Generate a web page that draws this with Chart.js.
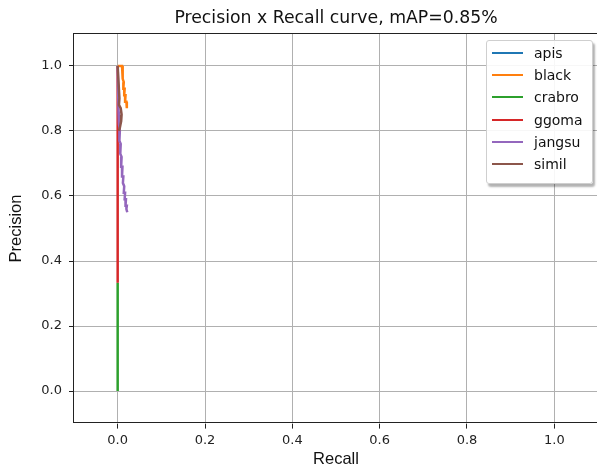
<!DOCTYPE html>
<html>
<head>
<meta charset="utf-8">
<script src="https://cdn.jsdelivr.net/npm/chart.js@4/dist/chart.umd.min.js"></script>
<style>
  html, body { margin: 0; padding: 0; background: #fff; overflow: hidden; }
  #wrap { position: relative; width: 597px; height: 469px; overflow: hidden; }
  #legend {
    position: absolute; left: 486px; top: 40px; width: 105px; height: 142px;
    background: rgba(255,255,255,0.9); border: 1px solid #cfcfcf; border-radius: 3px;
    box-shadow: 2px 3px 2px rgba(0,0,0,0.3);
    font-family: "DejaVu Sans", sans-serif; font-size: 14px; color: #111;
  }
  .row { position: absolute; left: 0; height: 18px; line-height: 18px; }
  .row .handle { position: absolute; left: 5px; top: 8px; width: 31px; height: 2px; }
  .row .label { position: absolute; left: 47px; top: 0; white-space: nowrap; }
</style>
</head>
<body>
<div id="wrap">
  <canvas id="prChart" width="598" height="469"></canvas>
  <div id="legend"></div>
</div>
<script>
// ---- data ----
const classNames = ['apis', 'black', 'crabro', 'ggoma', 'jangsu', 'simil'];
const classColors = ['#1f77b4', '#ff7f0e', '#2ca02c', '#d62728', '#9467bd', '#8c564b'];

const apisRecall = [0, 0];
const apisPrecision = [1.0, 1.0];
const blackRecall = [0, 0.01, 0.011, 0.012, 0.014, 0.013, 0.016, 0.015, 0.018, 0.017, 0.02, 0.021];
const blackPrecision = [1.0, 1.0, 0.97, 0.96, 0.95, 0.93, 0.93, 0.91, 0.91, 0.89, 0.89, 0.87];
const crabroRecall = [0, 0];
const crabroPrecision = [0.333, 0.0];
const ggomaRecall = [0, 0, 0];
const ggomaPrecision = [1.0, 0.5, 0.333];
const jangsuRecall = [0, 0.002, 0.003, 0.005, 0.004, 0.007, 0.006, 0.009, 0.008, 0.011, 0.010, 0.013, 0.012, 0.015, 0.014, 0.017, 0.016, 0.019, 0.018, 0.021, 0.020, 0.022];
const jangsuPrecision = [1.0, 0.86, 0.82, 0.80, 0.77, 0.76, 0.73, 0.72, 0.69, 0.69, 0.66, 0.66, 0.64, 0.63, 0.61, 0.61, 0.59, 0.59, 0.57, 0.57, 0.56, 0.55];
const similRecall = [0, 0.002, 0.004, 0.003, 0.007, 0.009, 0.008, 0.005, 0.003];
const similPrecision = [1.0, 0.95, 0.90, 0.88, 0.87, 0.85, 0.83, 0.81, 0.80];

const allRecall = [apisRecall, blackRecall, crabroRecall, ggomaRecall, jangsuRecall, similRecall];
const allPrecision = [apisPrecision, blackPrecision, crabroPrecision, ggomaPrecision, jangsuPrecision, similPrecision];

const xTicks = [0.0, 0.2, 0.4, 0.6, 0.8, 1.0];
const yTicks = [0.0, 0.2, 0.4, 0.6, 0.8, 1.0];

// ---- build datasets (later series on top, like matplotlib) ----
const datasets = classNames.map((name, i) => ({
  label: name,
  data: allRecall[i].map((r, j) => ({ x: r, y: allPrecision[i][j] })),
  borderColor: classColors[i],
  backgroundColor: classColors[i],
  borderWidth: 2.5,
  pointRadius: 0,
  tension: 0,
  fill: false,
  order: classNames.length - i
}));

// black frame round the plot area
const frame = {
  id: 'frame',
  afterDatasetsDraw(chart) {
    const a = chart.chartArea;
    const c = chart.ctx;
    c.save();
    c.strokeStyle = '#222';
    c.lineWidth = 1;
    c.strokeRect(Math.round(a.left) - 0.5, Math.round(a.top) + 0.5, a.right - a.left, Math.round(a.bottom - a.top) - 1);
    c.restore();
  }
};

Chart.defaults.font.family = '"DejaVu Sans", sans-serif';
Chart.defaults.color = '#222';

new Chart(document.getElementById('prChart'), {
  type: 'line',
  data: { datasets },
  options: {
    responsive: false,
    animation: false,
    devicePixelRatio: 1,
    layout: { padding: 0 },
    plugins: {
      legend: { display: false },
      tooltip: { enabled: false },
      title: {
        display: true,
        fullSize: false,
        text: 'Precision x Recall curve, mAP=0.85%',
        color: '#111',
        font: { size: 17.3, weight: 'normal' },
        padding: { top: 8, bottom: 4.6 }
      }
    },
    scales: {
      x: {
        type: 'linear',
        min: -0.1, max: 1.1,
        afterBuildTicks: s => { s.ticks = xTicks.map(v => ({ value: v })); },
        afterFit: s => { s.height = 45.4; },
        ticks: { callback: v => v.toFixed(1), font: { size: 13 }, color: '#222', padding: 4, maxRotation: 0 },
        grid: { color: '#b0b0b0', lineWidth: 1, tickLength: 5, tickColor: '#222' },
        border: { display: false },
        title: { display: true, text: 'Recall', color: '#111', font: { family: '"Liberation Sans", Arial, sans-serif', size: 16.5 }, padding: { top: 0, bottom: 0 } }
      },
      y: {
        type: 'linear',
        min: -0.1, max: 1.1,
        afterBuildTicks: s => { s.ticks = yTicks.map(v => ({ value: v })); },
        afterFit: s => { s.width = 74; },
        ticks: { callback: v => v.toFixed(1), font: { size: 13 }, color: '#222', padding: 7 },
        grid: { color: '#b0b0b0', lineWidth: 1, tickLength: 5, tickColor: '#222' },
        border: { display: false },
        title: { display: true, text: 'Precision', color: '#111', font: { family: '"Liberation Sans", Arial, sans-serif', size: 16.5 }, padding: { top: 7, bottom: 0 } }
      }
    }
  },
  plugins: [frame]
});

// legend box inside the plot, top right
const legend = document.getElementById('legend');
classNames.forEach((name, i) => {
  const row = document.createElement('div');
  row.className = 'row';
  row.style.top = (3 + i * 22.2) + 'px';
  row.innerHTML = '<div class="handle" style="background:' + classColors[i] + '"></div><div class="label">' + name + '</div>';
  legend.appendChild(row);
});
</script>
</body>
</html>
